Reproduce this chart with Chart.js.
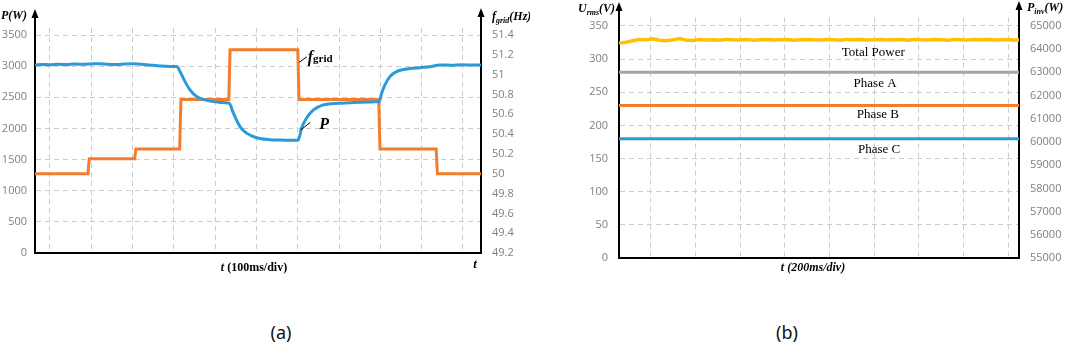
<!DOCTYPE html>
<html><head><meta charset="utf-8">
<script src="https://cdn.jsdelivr.net/npm/chart.js@4.4.1/dist/chart.umd.min.js"></script>
<style>
html,body{margin:0;padding:0;background:#fff;}
body{width:1065px;height:345px;position:relative;overflow:hidden;}
#ca{position:absolute;left:0;top:0;}
#cb{position:absolute;left:530px;top:0;}
.cap{position:absolute;top:320px;line-height:24px;font:18px "Noto Sans",sans-serif;color:#111;transform:translateX(-50%);}
</style></head><body>
<canvas id="ca" width="530" height="300"></canvas>
<canvas id="cb" width="535" height="300"></canvas>
<div class="cap" style="left:281px">(a)</div>
<div class="cap" style="left:787px">(b)</div>
<script>
// ---------- Panel (a) data ----------
const timeTicksA = [0,1,2,3,4,5,6,7,8,9,10];
const powerTicksA = [0,500,1000,1500,2000,2500,3000,3500];
const powerTickLabelsA = ["0","500","1000","1500","2000","2500","3000","3500"];
const freqTicksA = [49.2,49.4,49.6,49.8,50,50.2,50.4,50.6,50.8,51,51.2,51.4];
const freqTickLabelsA = ["49.2","49.4","49.6","49.8","50","50.2","50.4","50.6","50.8","51","51.2","51.4"];
// f_grid step profile (Hz)
const fTime = [-0.363,0.92,0.95,2.05,2.08,3.14,3.17,4.33,4.36,6.00,6.03,7.96,7.99,9.35,9.38,10.436];
const fGrid = [50.0,50.0,50.15,50.15,50.25,50.25,50.75,50.75,51.25,51.25,50.75,50.75,50.25,50.25,50.0,50.0];
// inverter power P (W)
const pTime = [-0.363,-0.2,0.0,0.2,0.4,0.6,0.8,1.0,1.2,1.4,1.6,1.8,2.0,2.2,2.4,2.6,2.8,3.0,3.07,
  3.15,3.27,3.39,3.55,3.75,3.95,4.12,4.34,
  4.44,4.60,4.76,5.00,5.33,5.69,6.01,
  6.09,6.21,6.38,6.62,7.00,7.25,7.51,7.75,7.97,
  8.03,8.11,8.23,8.39,8.64,8.96,9.2,9.44,9.7,10.0,10.2,10.436];
const pPower = [3020,3028,3022,3030,3026,3034,3030,3036,3040,3032,3028,3034,3040,3030,3018,3005,2998,2995,2995,
  2912,2751,2618,2511,2458,2431,2418,2405,
  2245,2030,1924,1850,1820,1812,1810,
  2004,2164,2298,2378,2405,2412,2421,2426,2431,
  2565,2698,2831,2912,2955,2976,2992,3018,3016,3022,3018,3020];

// ---------- Panel (b) data ----------
const timeTicksB = [0,1,2,3,4,5,6,7,8];
const voltTicksB = [0,50,100,150,200,250,300,350];
const voltTickLabelsB = ["0","50","100","150","200","250","300","350"];
const pinvTicksB = [55000,56000,57000,58000,59000,60000,61000,62000,63000,64000,65000];
const pinvTickLabelsB = ["55000","56000","57000","58000","59000","60000","61000","62000","63000","64000","65000"];
const phaseTime = [-0.71,8.24];
const phaseA = [280,280];
const phaseB = [230,230];
const phaseC = [180,180];
const totalTime = [-0.71,-0.55,-0.40,-0.25,-0.10,0.05,0.20,0.35,0.50,0.65,0.80,0.95,1.10,1.25,1.40,1.55,1.70,1.85,2.00,2.15,
  2.30,2.45,2.60,2.75,2.90,3.05,3.20,3.35,3.50,3.65,3.80,3.95,4.10,4.25,4.40,4.55,4.70,4.85,5.00,5.15,
  5.30,5.45,5.60,5.75,5.90,6.05,6.20,6.35,6.50,6.65,6.80,6.95,7.10,7.25,7.40,7.55,7.70,7.85,8.00,8.15,8.24];
const totalPower = [64260,64300,64360,64420,64400,64450,64380,64360,64400,64460,64380,64370,64410,64390,64400,64380,64420,64400,64390,64410,
  64380,64400,64420,64390,64400,64410,64380,64400,64420,64400,64390,64410,64400,64380,64420,64400,64410,64390,64400,64420,
  64390,64400,64410,64380,64420,64400,64390,64410,64400,64380,64420,64400,64390,64410,64400,64420,64390,64400,64410,64380,64400];

const pts = (xs, ys) => xs.map((x,i)=>({x:x, y:ys[i]}));

const SERIF = '"Liberation Serif","Times New Roman",serif';
const TICKFONT = {family:'"Open Sans","Noto Sans",sans-serif', size:11};
const GRIDCOL = '#cccccc';

function runsWidth(ctx, runs){ let w=0; runs.forEach(r=>{ctx.font=r.font; w+=ctx.measureText(r.t).width;}); return w; }
function drawRuns(ctx, x, y, runs, align){
  let w = runsWidth(ctx, runs);
  let cx = align==='center' ? x - w/2 : x;
  ctx.textBaseline='alphabetic'; ctx.textAlign='left'; ctx.fillStyle='#000';
  runs.forEach(r=>{ ctx.font=r.font; ctx.fillText(r.t, cx, y + (r.dy||0)); cx += ctx.measureText(r.t).width; });
}
function axisArrow(ctx, x, fromY, tipY){
  ctx.save();
  ctx.strokeStyle='#000'; ctx.lineWidth=2;
  ctx.beginPath(); ctx.moveTo(x, fromY+1); ctx.lineTo(x, tipY+6); ctx.stroke();
  ctx.fillStyle='#000';
  ctx.beginPath(); ctx.moveTo(x, tipY); ctx.lineTo(x-3.5, tipY+9); ctx.lineTo(x+3.5, tipY+9); ctx.closePath(); ctx.fill();
  ctx.restore();
}
function setTicks(list){ return s => { s.ticks = list.map(v=>({value:v})); }; }

// ---------- Chart (a) ----------
const decoA = {
  id:'decoA',
  afterDraw(chart){
    const ctx=chart.ctx, a=chart.chartArea, sx=chart.scales.x, sp=chart.scales.yP;
    ctx.save();
    axisArrow(ctx, a.left, a.top, 9);
    axisArrow(ctx, a.right, a.top, 8);
    drawRuns(ctx, 1, 19, [{t:'P(W)', font:'italic bold 12px '+SERIF}]);
    drawRuns(ctx, a.right+11, 20, [{t:'f', font:'italic bold 12px '+SERIF},{t:'grid', font:'italic bold 8px '+SERIF, dy:3},{t:'(Hz)', font:'italic bold 12px '+SERIF}]);
    drawRuns(ctx, (a.left+a.right)/2-4, 271, [{t:'t', font:'italic bold 12px '+SERIF},{t:' (100ms/div)', font:'bold 12px '+SERIF}], 'center');
    drawRuns(ctx, a.right-6, 268, [{t:'t', font:'italic bold 13px '+SERIF}], 'center');
    // f_grid annotation
    ctx.strokeStyle='#000'; ctx.lineWidth=1;
    ctx.beginPath(); ctx.moveTo(sx.getPixelForValue(6.03), sp.getPixelForValue(3060)); ctx.lineTo(sx.getPixelForValue(6.22), sp.getPixelForValue(3150)); ctx.stroke();
    drawRuns(ctx, sx.getPixelForValue(6.24), sp.getPixelForValue(3060), [{t:'f', font:'italic bold 16px '+SERIF},{t:'grid', font:'bold 11px '+SERIF}]);
    // P annotation
    ctx.beginPath(); ctx.moveTo(sx.getPixelForValue(6.07), sp.getPixelForValue(1975)); ctx.lineTo(sx.getPixelForValue(6.30), sp.getPixelForValue(2095)); ctx.stroke();
    drawRuns(ctx, sx.getPixelForValue(6.52), sp.getPixelForValue(1985), [{t:'P', font:'italic bold 16px '+SERIF}]);
    ctx.restore();
  }
};
new Chart(document.getElementById('ca'), {
  type:'line',
  data:{datasets:[
    {label:'P', data:pts(pTime,pPower), yAxisID:'yP', borderColor:'#2b9ad8', borderWidth:3, pointRadius:0, cubicInterpolationMode:'monotone', order:0},
    {label:'fgrid', data:pts(fTime,fGrid), yAxisID:'yF', borderColor:'#f47d2c', borderWidth:3, pointRadius:0, tension:0, order:1}
  ]},
  options:{
    responsive:false, animation:false, devicePixelRatio:1,
    layout:{padding:{top:28,left:0,right:0,bottom:0}},
    plugins:{legend:{display:false}, tooltip:{enabled:false}},
    scales:{
      x:{type:'linear', min:-0.363, max:10.436, afterBuildTicks:setTicks(timeTicksA),
         ticks:{display:false}, grid:{color:GRIDCOL, lineWidth:1, drawTicks:false},
         border:{display:true, color:'#000', width:2, dash:[5,4]}, afterFit:s=>{s.height=47;}},
      yP:{type:'linear', position:'left', min:0, max:3612.4, afterBuildTicks:setTicks(powerTicksA),
         ticks:{color:'#808080', font:TICKFONT, padding:8, callback:(v,i)=>powerTickLabelsA[i]},
         grid:{color:GRIDCOL, lineWidth:1, drawTicks:false},
         border:{display:true, color:'#000', width:2, dash:[5,4]}, afterFit:s=>{s.width=35;}},
      yF:{type:'linear', position:'right', min:49.2, max:51.4706, afterBuildTicks:setTicks(freqTicksA),
         ticks:{color:'#808080', font:TICKFONT, padding:11, callback:(v,i)=>freqTickLabelsA[i]},
         grid:{display:false, drawTicks:false},
         border:{display:true, color:'#000', width:2}, afterFit:s=>{s.width=49;}}
    }
  },
  plugins:[decoA]
});

// ---------- Chart (b) ----------
const decoB = {
  id:'decoB',
  afterDraw(chart){
    const ctx=chart.ctx, a=chart.chartArea, sx=chart.scales.x, su=chart.scales.yU;
    ctx.save();
    axisArrow(ctx, a.left, a.top, 2);
    axisArrow(ctx, a.right, a.top, 1);
    drawRuns(ctx, 48, 12, [{t:'U', font:'italic bold 12px '+SERIF},{t:'rms', font:'italic bold 8px '+SERIF, dy:3},{t:'(V)', font:'italic bold 12px '+SERIF}]);
    drawRuns(ctx, a.right+8, 11, [{t:'P', font:'italic bold 12px '+SERIF},{t:'inv', font:'italic bold 8px '+SERIF, dy:3},{t:'(W)', font:'italic bold 12px '+SERIF}]);
    drawRuns(ctx, 283, 271, [{t:'t (200ms/div)', font:'italic bold 12px '+SERIF}], 'center');
    const lab = [['Total Power',4.98,310],['Phase A',5.02,263],['Phase B',5.08,217],['Phase C',5.11,164]];
    ctx.font='13px '+SERIF; ctx.textAlign='center'; ctx.textBaseline='middle'; ctx.fillStyle='#000';
    lab.forEach(l=>ctx.fillText(l[0], sx.getPixelForValue(l[1]), su.getPixelForValue(l[2])));
    ctx.restore();
  }
};
new Chart(document.getElementById('cb'), {
  type:'line',
  data:{datasets:[
    {label:'Total Power', data:pts(totalTime,totalPower), yAxisID:'yP', borderColor:'#ffc000', borderWidth:3.5, pointRadius:0, tension:0},
    {label:'Phase A', data:pts(phaseTime,phaseA), yAxisID:'yU', borderColor:'#a5a5a5', borderWidth:3, pointRadius:0},
    {label:'Phase B', data:pts(phaseTime,phaseB), yAxisID:'yU', borderColor:'#f47d2c', borderWidth:3, pointRadius:0},
    {label:'Phase C', data:pts(phaseTime,phaseC), yAxisID:'yU', borderColor:'#2b9ad8', borderWidth:3, pointRadius:0}
  ]},
  options:{
    responsive:false, animation:false, devicePixelRatio:1,
    layout:{padding:{top:13,left:0,right:0,bottom:0}},
    plugins:{legend:{display:false}, tooltip:{enabled:false}},
    scales:{
      x:{type:'linear', min:-0.71, max:8.24, afterBuildTicks:setTicks(timeTicksB),
         ticks:{display:false}, grid:{color:GRIDCOL, lineWidth:1, drawTicks:false},
         border:{display:true, color:'#000', width:2, dash:[5,4]}, afterFit:s=>{s.height=42;}},
      yU:{type:'linear', position:'left', min:0, max:362.6, afterBuildTicks:setTicks(voltTicksB),
         ticks:{color:'#808080', font:TICKFONT, padding:11, callback:(v,i)=>voltTickLabelsB[i]},
         grid:{color:GRIDCOL, lineWidth:1, drawTicks:false},
         border:{display:true, color:'#000', width:2, dash:[5,4]}, afterFit:s=>{s.width=89;}},
      yP:{type:'linear', position:'right', min:55000, max:65359, afterBuildTicks:setTicks(pinvTicksB),
         ticks:{color:'#808080', font:TICKFONT, padding:11, callback:(v,i)=>pinvTickLabelsB[i]},
         grid:{display:false, drawTicks:false},
         border:{display:true, color:'#000', width:2}, afterFit:s=>{s.width=46;}}
    }
  },
  plugins:[decoB]
});
</script>
</body></html>
